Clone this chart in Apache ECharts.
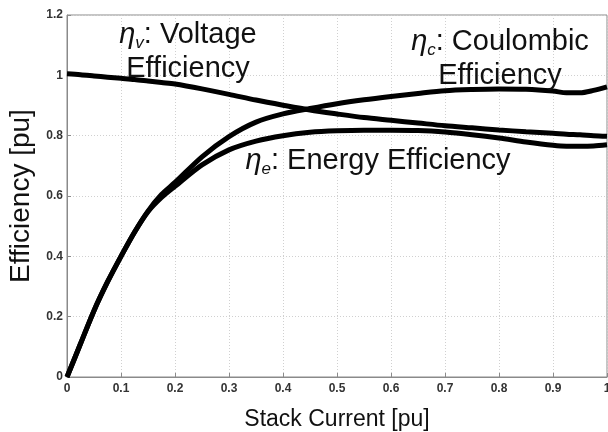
<!DOCTYPE html>
<html>
<head>
<meta charset="utf-8">
<script src="https://cdn.jsdelivr.net/npm/echarts@6/dist/echarts.min.js"></script>
<style>html,body{margin:0;padding:0;background:#fff}#c{width:608px;height:432px}</style>
</head>
<body>
<div id="c"></div>
<script>
var current = [0,0.025,0.05,0.075,0.1,0.125,0.15,0.175,0.2,0.25,0.3,0.35,0.4,0.45,0.5,0.55,0.6,0.65,0.7,0.75,0.8,0.85,0.9,0.925,0.95,0.975,1];
var voltageEff = [1.005,1.002,0.998,0.994,0.99,0.986,0.981,0.976,0.971,0.955,0.937,0.918,0.901,0.885,0.872,0.86,0.851,0.842,0.833,0.826,0.819,0.813,0.808,0.805,0.803,0.8,0.798];
var coulombicEff = [0,0.11,0.22,0.315,0.40,0.48,0.55,0.605,0.645,0.73,0.797,0.845,0.872,0.89,0.906,0.919,0.93,0.94,0.949,0.953,0.955,0.954,0.948,0.942,0.942,0.95,0.962];
var energyEff = [0,0.11,0.22,0.315,0.40,0.48,0.548,0.595,0.632,0.703,0.753,0.782,0.8,0.811,0.816,0.818,0.818,0.817,0.812,0.803,0.792,0.779,0.768,0.765,0.765,0.766,0.77];
var xTicks = {min:0, max:1, interval:0.1};
var yTicks = {min:0, max:1.2, interval:0.2};
var xName = 'Stack Current [pu]';
var yName = 'Efficiency [pu]';

function pairs(xs, ys){ return xs.map(function(x,i){ return [x, ys[i]]; }); }

var FONT = 'Liberation Sans, Arial, sans-serif';
var rich = {
  e: {fontFamily: FONT, fontStyle: 'italic', fontSize: 29, lineHeight: 34, fill: '#111'},
  s: {fontFamily: FONT, fontStyle: 'italic', fontSize: 17, verticalAlign: 'bottom', fill: '#111'},
  n: {fontFamily: FONT, fontSize: 29, lineHeight: 34, fill: '#111'}
};

var chart = echarts.init(document.getElementById('c'), null, {renderer: 'canvas'});
var lineStyle = {color: '#000', width: 5};
chart.setOption({
  animation: false,
  backgroundColor: '#fff',
  grid: {left: 67, right: 1, top: 15, bottom: 55, containLabel: false, outerBoundsMode: 'none', show: true, borderColor: '#8a8a8a', borderWidth: 1},
  xAxis: {
    type: 'value', min: xTicks.min, max: xTicks.max, interval: xTicks.interval,
    name: xName, nameLocation: 'middle', nameGap: 31,
    nameTextStyle: {fontFamily: FONT, fontSize: 23, color: '#111'},
    axisLine: {show: true, lineStyle: {color: '#8a8a8a', width: 1}},
    axisTick: {show: true, inside: true, length: 4, lineStyle: {color: '#8a8a8a'}},
    axisLabel: {fontFamily: FONT, fontSize: 12, fontWeight: 'bold', color: '#333', margin: 6},
    splitLine: {show: true, lineStyle: {color: '#d0d0d0', type: [1, 2], width: 1}}
  },
  yAxis: {
    type: 'value', min: yTicks.min, max: yTicks.max, interval: yTicks.interval,
    name: yName, nameLocation: 'middle', nameGap: 31,
    nameTextStyle: {fontFamily: FONT, fontSize: 28, color: '#111'},
    axisLine: {show: true, lineStyle: {color: '#8a8a8a', width: 1}},
    axisTick: {show: true, inside: true, length: 4, lineStyle: {color: '#8a8a8a'}},
    axisLabel: {fontFamily: FONT, fontSize: 12, fontWeight: 'bold', color: '#333', margin: 4},
    splitLine: {show: true, lineStyle: {color: '#d0d0d0', type: [1, 2], width: 1}}
  },
  series: [
    {type: 'line', name: 'Voltage', data: pairs(current, voltageEff), showSymbol: false, smooth: 0.3, lineStyle: lineStyle},
    {type: 'line', name: 'Coulombic', data: pairs(current, coulombicEff), showSymbol: false, smooth: 0.3, lineStyle: lineStyle},
    {type: 'line', name: 'Energy', data: pairs(current, energyEff), showSymbol: false, smooth: 0.3, lineStyle: lineStyle}
  ],
  graphic: [
    {type: 'text', x: 188, y: 18, z: 100, style: {text: '{e|η}{s|v}{n|: Voltage}\n{n|Efficiency}', rich: rich, align: 'center', verticalAlign: 'top'}},
    {type: 'text', x: 500, y: 25, z: 100, style: {text: '{e|η}{s|c}{n|: Coulombic}\n{n|Efficiency}', rich: rich, align: 'center', verticalAlign: 'top'}},
    {type: 'text', x: 378, y: 144, z: 100, style: {text: '{e|η}{s|e}{n|: Energy Efficiency}', rich: rich, align: 'center', verticalAlign: 'top'}}
  ]
});
</script>
</body>
</html>
